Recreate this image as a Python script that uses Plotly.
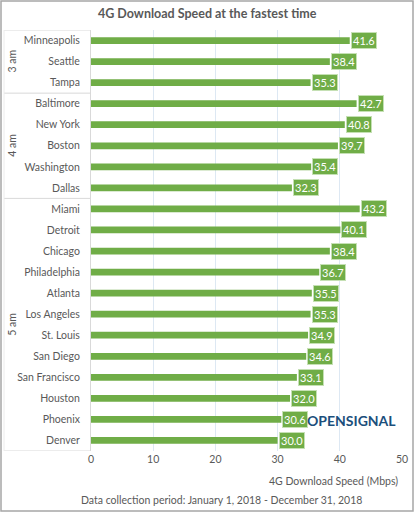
import plotly.graph_objects as go

cities = ["Minneapolis", "Seattle", "Tampa",
          "Baltimore", "New York", "Boston", "Washington", "Dallas",
          "Miami", "Detroit", "Chicago", "Philadelphia", "Atlanta", "Los Angeles",
          "St. Louis", "San Diego", "San Francisco", "Houston", "Phoenix", "Denver"]
speeds = [41.6, 38.4, 35.3,
          42.7, 40.8, 39.7, 35.4, 32.3,
          43.2, 40.1, 38.4, 36.7, 35.5, 35.3, 34.9, 34.6, 33.1, 32.0, 30.6, 30.0]
groups = ["3 am", "4 am", "5 am"]
group_sizes = [3, 5, 12]
x_ticks = [0, 10, 20, 30, 40, 50]

W, H = 414, 512
L, R, T, B = 91, 12, 30, 61
PW, PH = W - L - R, H - T - B

def px(x):
    return (x - L) / PW

def py(y):
    return (H - B - y) / PH

GREEN = "#70ad47"
GREY = "#595959"
FONT = "Lato, 'Open Sans', sans-serif"

fig = go.Figure()
fig.add_trace(go.Bar(
    x=speeds, y=list(range(len(cities))), orientation="h",
    marker=dict(color=GREEN, line=dict(width=0)),
    width=0.32, hoverinfo="x+y",
))

annotations = []
for i, v in enumerate(speeds):
    annotations.append(dict(
        x=v, y=i, xref="x", yref="y", text=f"{v:.1f}", showarrow=False,
        xanchor="left", yanchor="middle", xshift=1,
        font=dict(family=FONT, size=11, color="white"),
        bgcolor=GREEN, bordercolor="#c5e0b4", borderwidth=1, borderpad=1,
    ))

shapes = []
start = 0
boundaries = [-0.5]
for gname, n in zip(groups, group_sizes):
    mid = start + (n - 1) / 2
    annotations.append(dict(
        x=px(12), y=mid, xref="paper", yref="y", text=gname, showarrow=False,
        textangle=-90, xanchor="center", yanchor="middle",
        font=dict(family=FONT, size=10.5, color=GREY),
    ))
    start += n
    boundaries.append(start - 0.5)
for b in boundaries:
    shapes.append(dict(type="line", xref="paper", yref="y",
                       x0=px(4), x1=0, y0=b, y1=b,
                       line=dict(color="#d9d9d9", width=1)))
shapes.append(dict(type="line", xref="paper", yref="y",
                   x0=px(4), x1=px(4), y0=-0.5, y1=len(cities) - 0.5,
                   line=dict(color="#ececec", width=1)))
shapes.append(dict(type="rect", xref="paper", yref="paper",
                   x0=px(1), x1=px(413), y0=py(511), y1=py(1),
                   line=dict(color="#a6a6a6", width=1.5), layer="below"))

annotations += [
    dict(x=px(207), y=py(13), xref="paper", yref="paper",
         text="<b>4G Download Speed at the fastest time</b>", showarrow=False,
         xanchor="center", yanchor="middle",
         font=dict(family=FONT, size=12.5, color=GREY)),
    dict(x=px(400), y=py(481), xref="paper", yref="paper",
         text="4G Download Speed (Mbps)", showarrow=False,
         xanchor="right", yanchor="middle",
         font=dict(family=FONT, size=10.5, color=GREY)),
    dict(x=px(221), y=py(500), xref="paper", yref="paper",
         text="Data collection period: January 1, 2018 - December 31, 2018",
         showarrow=False, xanchor="center", yanchor="middle",
         font=dict(family=FONT, size=10.5, color=GREY)),
    dict(x=px(398), y=py(420), xref="paper", yref="paper",
         text="<b>OPENSIGNAL</b>", showarrow=False,
         xanchor="right", yanchor="middle",
         font=dict(family=FONT, size=14, color="#1b4f7c")),
]

fig.update_layout(
    width=W, height=H,
    margin=dict(l=L, r=R, t=T, b=B, autoexpand=False),
    paper_bgcolor="white", plot_bgcolor="white",
    showlegend=False,
    bargap=0.68,
    font=dict(family=FONT, size=11, color=GREY),
    xaxis=dict(range=[0, 50], tickvals=x_ticks, ticktext=[str(t) for t in x_ticks],
               showgrid=True, gridcolor="#dde8f3", gridwidth=1,
               zeroline=False, showline=False, ticks="", automargin=False,
               tickfont=dict(family=FONT, size=10.5, color=GREY), fixedrange=True),
    yaxis=dict(tickvals=list(range(len(cities))), ticktext=cities,
               range=[len(cities) - 0.5, -0.5],
               showgrid=False, zeroline=False, automargin=False,
               showline=True, linecolor="#d9d9d9", linewidth=1,
               ticks="", ticklabelstandoff=8,
               tickfont=dict(family=FONT, size=10.5, color=GREY), fixedrange=True),
    annotations=annotations,
    shapes=shapes,
)

fig.write_html(
    "out.html",
    config={"displayModeBar": False},
    post_script="document.body.style.margin='0';document.body.style.overflow='hidden';",
)
